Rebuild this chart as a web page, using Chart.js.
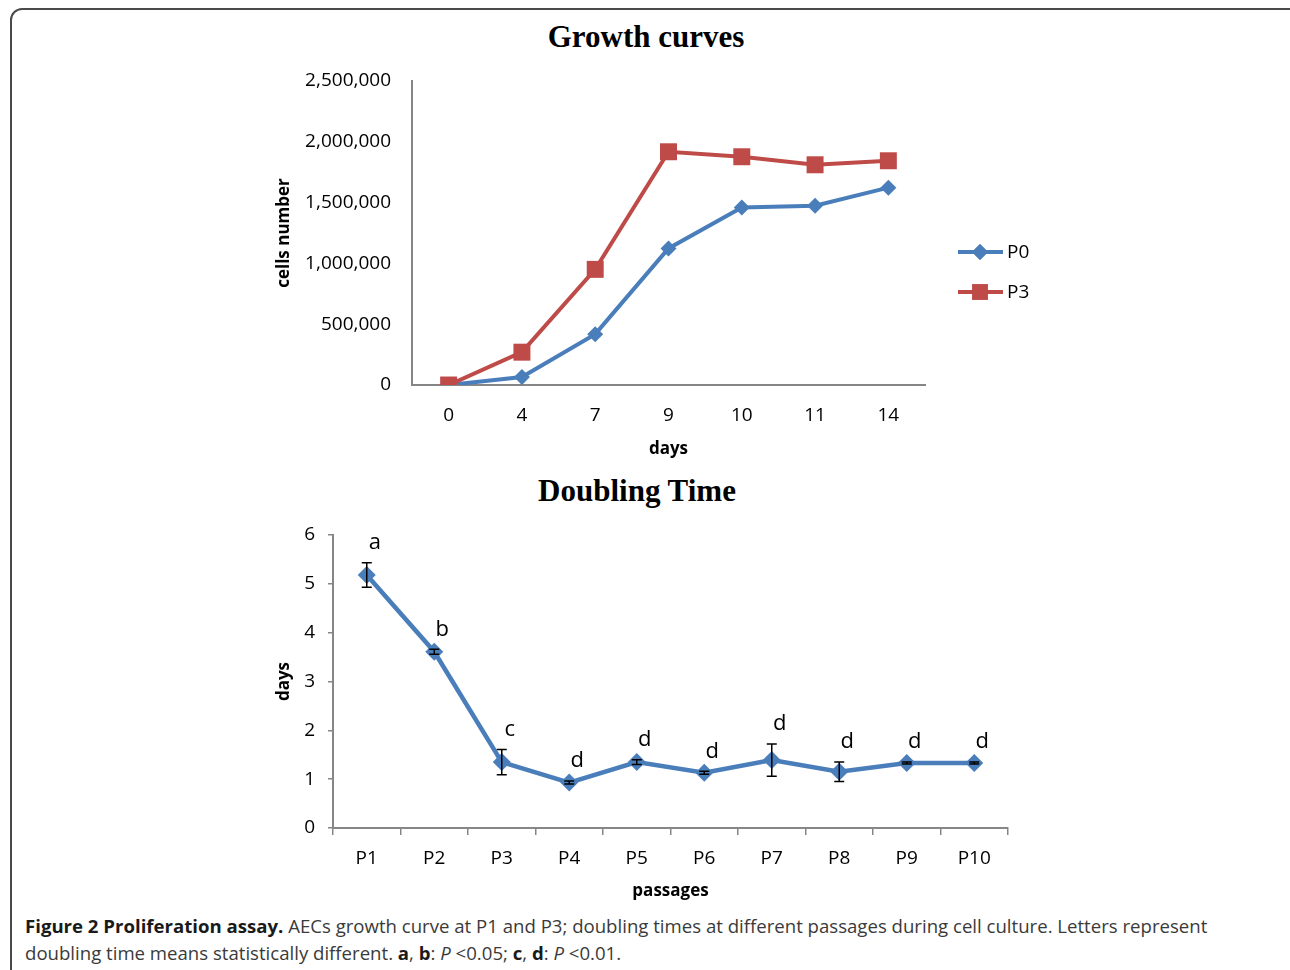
<!DOCTYPE html>
<html>
<head>
<meta charset="utf-8">
<script src="https://cdn.jsdelivr.net/npm/chart.js@4/dist/chart.umd.min.js"></script>
<style>
  html, body { margin: 0; padding: 0; background: #fff; width: 1290px; height: 970px; overflow: hidden; }
  #frame { position: absolute; left: 10px; top: 8px; width: 1300px; height: 1000px; border: 2px solid #4a4a4a; border-radius: 12px; box-sizing: border-box; }
  .title { position: absolute; width: 600px; text-align: center; font-family: "Liberation Serif", serif; font-weight: bold; font-size: 31px; color: #000; line-height: 1; }
  canvas { position: absolute; }
  #caption { position: absolute; left: 25px; top: 912px; width: 1260px; white-space: nowrap; font-family: "Open Sans", sans-serif; font-size: 18.6px; line-height: 27px; color: #3a3a3a; }
  #caption b { color: #1a1a1a; }
</style>
</head>
<body>
<div id="frame"></div>
<div class="title" style="left:346px; top:21px;">Growth curves</div>
<div class="title" style="left:337px; top:475px;">Doubling Time</div>
<div style="position:absolute; left:260px; top:60px; width:800px; height:410px;"><canvas id="growth"></canvas></div>
<div style="position:absolute; left:260px; top:510px; width:800px; height:400px;"><canvas id="doubling"></canvas></div>
<div id="caption"><b>Figure 2 Proliferation assay.</b> AECs growth curve at P1 and P3; doubling times at different passages during cell culture. Letters represent<br>doubling time means statistically different. <b>a</b>, <b>b</b>: <i>P</i> &lt;0.05; <b>c</b>, <b>d</b>: <i>P</i> &lt;0.01.</div>
<script>
  // 増殖曲線のデータ
  const days = ['0', '4', '7', '9', '10', '11', '14'];
  const p0Cells = [0, 65000, 418000, 1123000, 1459000, 1475000, 1623000];
  const p3Cells = [0, 270000, 951000, 1918000, 1877000, 1811000, 1844000];

  // 倍加時間のデータ
  const passages = ['P1', 'P2', 'P3', 'P4', 'P5', 'P6', 'P7', 'P8', 'P9', 'P10'];
  const doublingDays = [5.18, 3.61, 1.35, 0.93, 1.35, 1.13, 1.39, 1.15, 1.33, 1.33];
  const doublingErr = [0.25, 0.05, 0.26, 0.03, 0.05, 0.03, 0.33, 0.20, 0.02, 0.02];
  const letters = ['a', 'b', 'c', 'd', 'd', 'd', 'd', 'd', 'd', 'd'];

  const BLUE = '#4a7ebb';
  const RED = '#be4b48';
  const AXIS = '#868686';
  const tickFont = { family: 'Open Sans', size: 19 };
  const titleFont = { family: 'Open Sans', size: 17, weight: 'bold' };

  // 凡例（線＋マーカー）
  const lineLegendPlugin = {
    id: 'lineLegend',
    afterDraw: (chart) => {
      const ctx = chart.ctx;
      const area = chart.chartArea;
      const items = [
        { label: 'P0', color: BLUE, style: 'rectRot', r: 8 },
        { label: 'P3', color: RED, style: 'rect', r: 11 }
      ];
      items.forEach((item, i) => {
        const x0 = area.right + 33;
        const y = area.top + 171 + i * 40;
        ctx.save();
        ctx.strokeStyle = item.color;
        ctx.lineWidth = 4;
        ctx.beginPath();
        ctx.moveTo(x0, y);
        ctx.lineTo(x0 + 45, y);
        ctx.stroke();
        ctx.fillStyle = item.color;
        Chart.helpers.drawPoint(ctx, { pointStyle: item.style, radius: item.r, borderWidth: 0 }, x0 + 22, y);
        ctx.fill();
        ctx.fillStyle = '#000';
        ctx.font = '19px "Open Sans"';
        ctx.textBaseline = 'middle';
        ctx.fillText(item.label, x0 + 49, y + 1);
        ctx.restore();
      });
    }
  };

  new Chart(document.getElementById('growth'), {
    type: 'line',
    data: {
      labels: days,
      datasets: [
        { label: 'P0', data: p0Cells, borderColor: BLUE, backgroundColor: BLUE, borderWidth: 4,
          pointStyle: 'rectRot', pointRadius: 8, pointBorderWidth: 0, order: 1 },
        { label: 'P3', data: p3Cells, borderColor: RED, backgroundColor: RED, borderWidth: 4,
          pointStyle: 'rect', pointRadius: 12, pointBorderWidth: 0, order: 0 }
      ]
    },
    options: {
      responsive: true,
      maintainAspectRatio: false,
      animation: false,
      layout: { padding: { top: 21, right: 135, left: 0, bottom: 0 } },
      plugins: { legend: { display: false }, tooltip: { enabled: false } },
      scales: {
        x: {
          offset: true,
          grid: { drawOnChartArea: false, drawTicks: false },
          border: { color: AXIS, width: 2 },
          ticks: { color: '#000', font: tickFont, padding: 19 },
          title: { display: true, text: 'days', color: '#000', font: titleFont, padding: { bottom: 11 } },
          afterFit: (scale) => { scale.height = 85; }
        },
        y: {
          min: 0, max: 2500000,
          // 目盛り線は透明にして、ラベルと軸の間隔だけ確保する
          grid: { drawOnChartArea: false, tickLength: 21, color: 'rgba(0,0,0,0)' },
          border: { color: AXIS, width: 2 },
          ticks: { stepSize: 500000, color: '#000', font: tickFont, padding: 0,
                   callback: (v) => v.toLocaleString('en-US') },
          title: { display: true, text: 'cells number', color: '#000', font: titleFont, padding: { top: 14 } },
          afterFit: (scale) => { scale.width = 152; }
        }
      }
    },
    plugins: [lineLegendPlugin]
  });

  // エラーバーと有意差の文字
  const errorBarPlugin = {
    id: 'errorBars',
    afterDatasetsDraw: (chart) => {
      const ctx = chart.ctx;
      const xs = chart.scales.x;
      const ys = chart.scales.y;
      ctx.save();
      ctx.strokeStyle = '#000';
      ctx.lineWidth = 1.5;
      doublingDays.forEach((v, i) => {
        const x = xs.getPixelForValue(i);
        const top = ys.getPixelForValue(v + doublingErr[i]);
        const bot = ys.getPixelForValue(v - doublingErr[i]);
        ctx.beginPath();
        ctx.moveTo(x, top); ctx.lineTo(x, bot);
        ctx.moveTo(x - 5, top); ctx.lineTo(x + 5, top);
        ctx.moveTo(x - 5, bot); ctx.lineTo(x + 5, bot);
        ctx.stroke();
      });
      ctx.fillStyle = '#000';
      ctx.font = '22px "Open Sans"';
      ctx.textAlign = 'center';
      ctx.textBaseline = 'middle';
      letters.forEach((t, i) => {
        const x = xs.getPixelForValue(i) + 8;
        const y = ys.getPixelForValue(doublingDays[i] + doublingErr[i]) - 20;
        ctx.fillText(t, x, y);
      });
      ctx.restore();
    }
  };

  new Chart(document.getElementById('doubling'), {
    type: 'line',
    data: {
      labels: passages,
      datasets: [
        { label: 'doubling time', data: doublingDays, borderColor: BLUE, backgroundColor: BLUE, borderWidth: 4.5,
          pointStyle: 'rectRot', pointRadius: 9, pointBorderWidth: 0 }
      ]
    },
    options: {
      responsive: true,
      maintainAspectRatio: false,
      animation: false,
      layout: { padding: { top: 25, right: 52, left: 0, bottom: 0 } },
      plugins: { legend: { display: false }, tooltip: { enabled: false } },
      scales: {
        x: {
          offset: true,
          grid: { offset: true, drawOnChartArea: false, tickLength: 7, color: AXIS, lineWidth: 1.5 },
          border: { color: AXIS, width: 2 },
          ticks: { color: '#000', font: tickFont, padding: 12 },
          title: { display: true, text: 'passages', color: '#000', font: titleFont, padding: { bottom: 9 } },
          afterFit: (scale) => { scale.height = 82; }
        },
        y: {
          min: 0, max: 6,
          grid: { drawOnChartArea: false, tickLength: 5, color: AXIS, lineWidth: 1.5 },
          border: { color: AXIS, width: 2 },
          ticks: { stepSize: 1, color: '#000', font: tickFont, padding: 13 },
          title: { display: true, text: 'days', color: '#000', font: titleFont, padding: { top: 14 } },
          afterFit: (scale) => { scale.width = 73; }
        }
      }
    },
    plugins: [errorBarPlugin]
  });
</script>
</body>
</html>
